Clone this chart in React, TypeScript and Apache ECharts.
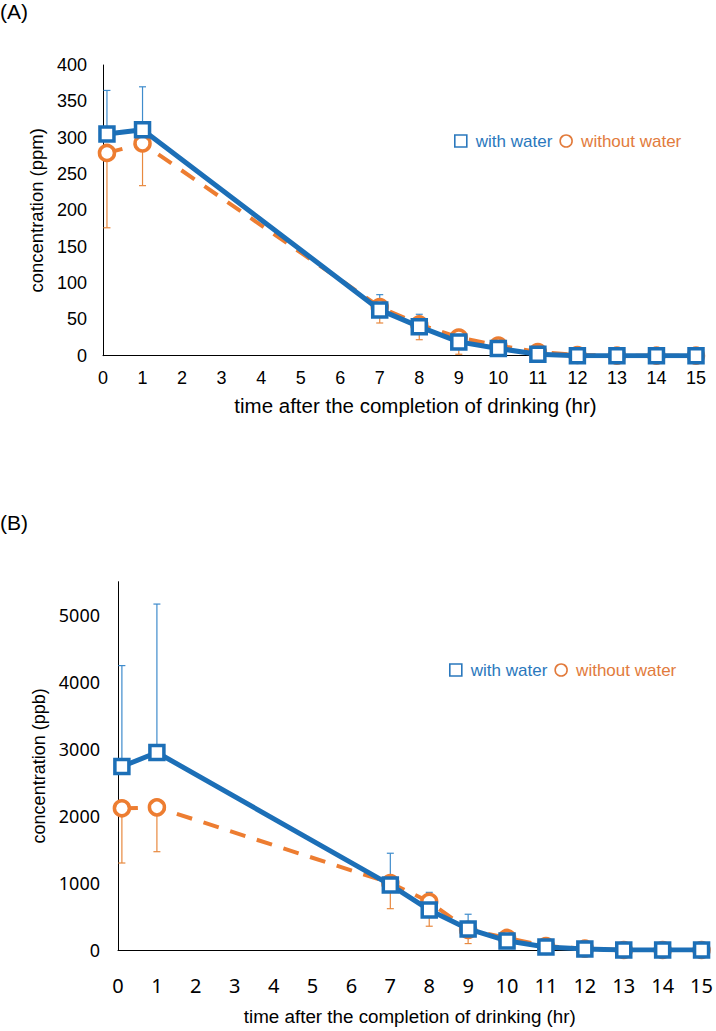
import React, { useEffect, useRef } from 'react';
import * as echarts from 'echarts';

// sampling times (hr)
const times = [0.1, 1, 7, 8, 9, 10, 11, 12, 13, 14, 15];

// (A) concentration (ppm)
const aWith = [305, 311, 63, 40, 19, 10, 2, 0, 0, 0, 0];
const aWithErrPlus = [60, 59, 21, 17, 17, 4, 2, 0, 0, 0, 0];
const aWithout = [279, 292, 67, 43, 25, 14, 5, 1, 0, 0, 0];
const aWithoutErrMinus = [103, 58, 22, 21, 23, 8, 3, 1, 0, 0, 0];

// (B) concentration (ppb)
const bWith = [2740, 2950, 972, 598, 315, 136, 44, 15, 0, 0, 0];
const bWithErrPlus = [1507, 2216, 473, 263, 219, 40, 20, 5, 0, 0, 0];
const bWithout = [2116, 2130, 1000, 720, 300, 180, 60, 20, 0, 0, 0];
const bWithoutErrMinus = [817, 662, 383, 365, 204, 60, 30, 10, 0, 0, 0];

const seriesNames = ['with water', 'without water'];
const xTitle = 'time after the completion of drinking (hr)';

const BLUE = '#1c6fb7';
const BLUE_TXT = '#2a78bd';
const BLUE_ERR = '#3f8ccc';
const ORANGE = '#ed7d31';
const ORANGE_TXT = '#e27b3c';
const ORANGE_ERR = '#e8893f';

function errorSeries(vals: number[], errs: number[], sign: number, color: string) {
  return {
    type: 'custom',
    silent: true,
    z: 1,
    data: times.map((t, i) => [t, vals[i], vals[i] + sign * errs[i]]),
    renderItem: (params: any, api: any) => {
      const p0 = api.coord([api.value(0), api.value(1)]);
      const p1 = api.coord([api.value(0), api.value(2)]);
      const cap = 3.5;
      return {
        type: 'group',
        children: [
          { type: 'line', shape: { x1: p0[0], y1: p0[1], x2: p1[0], y2: p1[1] }, style: { stroke: color, lineWidth: 1.2 } },
          { type: 'line', shape: { x1: p1[0] - cap, y1: p1[1], x2: p1[0] + cap, y2: p1[1] }, style: { stroke: color, lineWidth: 1.2 } },
        ],
      };
    },
  };
}

interface Cfg {
  label: string;
  labelY: number;
  grid: any;
  yMax: number;
  yInterval: number;
  yName: string;
  yNameGap: number;
  yNameSize: number;
  tickFont: string;
  xTickSize: number;
  yTickSize: number;
  xMargin: number;
  yMargin: number;
  xNameGap: number;
  xNameSize: number;
  xNamePad: number[];
  legendLeft: number;
  legendTop: number;
  withV: number[];
  withErr: number[];
  withoutV: number[];
  withoutErr: number[];
}

function buildOption(c: Cfg) {
  return {
    animation: false,
    graphic: [
      {
        type: 'text',
        x: 0,
        y: c.labelY,
        style: { text: c.label, fill: '#000', fontSize: 21, fontFamily: 'Liberation Sans', verticalAlign: 'middle' },
      },
    ],
    legend: {
      left: c.legendLeft,
      top: c.legendTop,
      itemWidth: 12,
      itemHeight: 12,
      itemGap: 7,
      selectedMode: false,
      textStyle: { fontSize: 17, fontFamily: 'Liberation Sans', padding: [0, 0, 0, 4] },
      data: [
        { name: seriesNames[0], icon: 'rect', itemStyle: { color: '#fff', borderColor: BLUE_TXT, borderWidth: 1.6 }, textStyle: { color: BLUE_TXT } },
        { name: seriesNames[1], icon: 'circle', itemStyle: { color: '#fff', borderColor: ORANGE_TXT, borderWidth: 1.6 }, textStyle: { color: ORANGE_TXT } },
      ],
    },
    grid: c.grid,
    xAxis: {
      type: 'value',
      min: 0,
      max: 15,
      interval: 1,
      axisLine: { show: true, lineStyle: { color: '#000', width: 1 } },
      axisTick: { show: false },
      splitLine: { show: false },
      axisLabel: { fontSize: c.xTickSize, color: '#000', fontFamily: c.tickFont, margin: c.xMargin },
      name: xTitle,
      nameLocation: 'middle',
      nameGap: c.xNameGap,
      nameTextStyle: { fontSize: c.xNameSize, color: '#000', fontFamily: 'Liberation Sans', padding: c.xNamePad },
    },
    yAxis: {
      type: 'value',
      min: 0,
      max: c.yMax,
      interval: c.yInterval,
      axisLine: { show: true, lineStyle: { color: '#000', width: 1 } },
      axisTick: { show: false },
      splitLine: { show: false },
      axisLabel: {
        fontSize: c.yTickSize,
        color: '#000',
        fontFamily: c.tickFont,
        margin: c.yMargin,
        formatter: (v: number) => (v > c.yMax - c.yInterval / 2 && c.yMax % c.yInterval !== 0 ? '' : String(v)),
      },
      name: c.yName,
      nameLocation: 'middle',
      nameRotate: 90,
      nameGap: c.yNameGap,
      nameTextStyle: { fontSize: c.yNameSize, color: '#000', fontFamily: 'Liberation Sans' },
    },
    series: [
      errorSeries(c.withoutV, c.withoutErr, -1, ORANGE_ERR),
      errorSeries(c.withV, c.withErr, 1, BLUE_ERR),
      {
        name: seriesNames[1],
        type: 'line',
        z: 2,
        data: times.map((t, i) => [t, c.withoutV[i]]),
        symbol: 'circle',
        symbolSize: 15,
        showAllSymbol: true,
        lineStyle: { color: ORANGE, width: 4, type: [16, 12] },
        itemStyle: { color: '#fff', borderColor: ORANGE, borderWidth: 3.5 },
      },
      {
        name: seriesNames[0],
        type: 'line',
        z: 3,
        data: times.map((t, i) => [t, c.withV[i]]),
        symbol: 'rect',
        symbolSize: 14,
        showAllSymbol: true,
        lineStyle: { color: BLUE, width: 5 },
        itemStyle: { color: '#fff', borderColor: BLUE, borderWidth: 3.5 },
      },
    ],
  };
}

const cfgA: Cfg = {
  label: '(A)',
  labelY: 11,
  grid: { left: 103, right: 20, top: 65, bottom: 144.3 },
  yMax: 400,
  yInterval: 50,
  yName: 'concentration (ppm)',
  yNameGap: 51,
  yNameSize: 18.5,
  tickFont: 'Liberation Sans',
  xTickSize: 18,
  yTickSize: 18,
  xMargin: 13,
  yMargin: 16,
  xNameGap: 39,
  xNameSize: 20.5,
  xNamePad: [0, 0, 0, 32],
  legendLeft: 449,
  legendTop: 127.5,
  withV: aWith,
  withErr: aWithErrPlus,
  withoutV: aWithout,
  withoutErr: aWithoutErrMinus,
};

const cfgB: Cfg = {
  label: '(B)',
  labelY: 22,
  grid: { left: 118, right: 9, top: 81.7, bottom: 72.7 },
  yMax: 5500,
  yInterval: 1000,
  yName: 'concentration (ppb)',
  yNameGap: 64,
  yNameSize: 18,
  tickFont: 'Noto Sans',
  xTickSize: 20,
  yTickSize: 18,
  xMargin: 25,
  yMargin: 18,
  xNameGap: 57,
  xNameSize: 18.8,
  xNamePad: [0, 0, 0, 0],
  legendLeft: 444,
  legendTop: 156.5,
  withV: bWith,
  withErr: bWithErrPlus,
  withoutV: bWithout,
  withoutErr: bWithoutErrMinus,
};

function Chart({ cfg, top, height }: { cfg: Cfg; top: number; height: number }) {
  const ref = useRef<HTMLDivElement>(null);
  useEffect(() => {
    if (!ref.current) return;
    const chart = echarts.init(ref.current, undefined, { renderer: 'svg' });
    chart.setOption(buildOption(cfg) as any);
    return () => chart.dispose();
  }, [cfg]);
  return <div ref={ref} style={{ position: 'absolute', left: 0, top, width: 716, height }} />;
}

export default function App() {
  return (
    <div style={{ position: 'absolute', left: 0, top: 0, width: 716, height: 1031, background: '#fff', overflow: 'hidden' }}>
      <Chart cfg={cfgA} top={0} height={500} />
      <Chart cfg={cfgB} top={500} height={531} />
    </div>
  );
}
